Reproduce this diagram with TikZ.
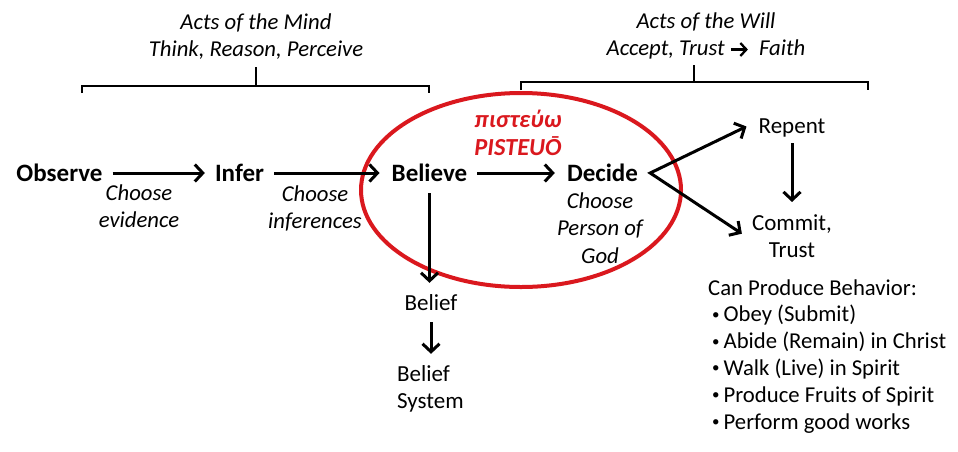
\documentclass[tikz,border=0pt]{standalone}
\usepackage{fontspec}
\setmainfont{Carlito}
\usetikzlibrary{arrows.meta,calc}
\definecolor{pred}{RGB}{218,24,30}
\newcommand{\bul}{\hspace*{4pt}{\fontsize{15}{15}\selectfont\raisebox{2.5pt}{•}}\hspace{4pt}}
\newcommand{\smallarrow}{\tikz[baseline=0pt]\draw[line width=2.3pt,-{Straight Barb[length=6pt,width=13pt]}] (0pt,5.5pt) -- (17pt,5.5pt);}
\begin{document}
\begin{tikzpicture}[x=1pt,y=-1pt,
  every node/.style={inner sep=0pt},
  key/.style={font=\fontsize{25}{29}\selectfont\bfseries, text height=16pt, text depth=0pt},
  note/.style={font=\fontsize{22.7}{26.5}\selectfont\itshape, align=center, anchor=base},
  plain/.style={font=\fontsize{23}{27}\selectfont, align=center, anchor=base},
  greek/.style={font=\fontsize{24.5}{28}\selectfont\bfseries\itshape, text=pred, align=center, anchor=base},
  arr/.style={line width=3pt, -{Straight Barb[length=8pt,width=17pt]}},
  arrboth/.style={line width=3pt, line join=miter, {Straight Barb[length=8pt,width=17pt]}-{Straight Barb[length=8pt,width=17pt]}},
  brace/.style={line width=2.5pt, line join=miter}]
\useasboundingbox (0,0) rectangle (958,451);

% headings (anchor=base is the baseline of the last line)
\node[note] (mind) at (256,56) {Acts of the Mind\\Think, Reason, Perceive};
\node[note] (will) at (706,55) {Acts of the Will\\Accept, Trust\hspace{5pt}\smallarrow\hspace{10pt}Faith};

% brackets
\draw[brace] (82,93) -- (82,86) -- (429,86) -- (429,93);
\draw[brace] (256,86) -- (256,67);
\draw[brace] (521,90) -- (521,82) -- (868,82) -- (868,90);
\draw[brace] (694,82) -- (694,65);

% ellipse
\draw[pred, line width=4pt] (521,190) ellipse [x radius=160pt, y radius=97pt];
\node[greek] (gr) at (518,155) {πιστεύω\\PISTEUŌ};

% main chain
\node[key] (obs) at (59.5,173) {Observe};
\node[key] (inf) at (239.5,173) {Infer};
\node[key] (bel) at (429.5,173) {Believe};
\node[key] (dec) at (602.5,173) {Decide};

\draw[arr, shorten <=10pt, shorten >=10pt] (obs) -- (inf);
\draw[arr, shorten <=10pt, shorten >=12pt] (inf) -- (bel);
\draw[arr, shorten <=10pt, shorten >=12pt] (bel) -- (dec);

\node[note] (ce) at (139,227) {Choose\\evidence};
\node[note] (ci) at (315,228) {Choose\\inferences};
\node[note, font=\fontsize{22.7}{27.5}\selectfont\itshape] (cp) at (600,263) {Choose\\Person of\\God};

% belief chain
\node[plain] (bf) at (431,310) {Belief};
\node[plain, align=left, anchor=base west] (bs) at (397,408) {Belief\\System};
\draw[arr, shorten <=12pt, shorten >=11pt] (bel.south) -- (bel.south |- bf.north);
\draw[arr, shorten <=12pt, shorten >=11pt] (bf.south) -- (bf.south |- bs.north);

% will side
\node[plain] (rep) at (792,133) {Repent};
\node[plain] (com) at (792,257) {Commit,\\Trust};
\coordinate (v) at ($(dec.east)+(12,0)$);
\draw[arrboth] ($(rep.west)+(-12,-1)$) -- (v) -- ($(com.west)+(-10,-2)$);
\draw[arr, shorten <=6.5pt, shorten >=12pt] (rep.south) -- (rep.south |- com.north);

% behaviour list
\node[anchor=base west, align=left, font=\fontsize{22.7}{26.8}\selectfont] (beh) at (708,429)
  {Can Produce Behavior:\\
   \bul Obey (Submit)\\
   \bul Abide (Remain) in Christ\\
   \bul Walk (Live) in Spirit\\
   \bul Produce Fruits of Spirit\\
   \bul Perform good works};
\end{tikzpicture}
\end{document}
